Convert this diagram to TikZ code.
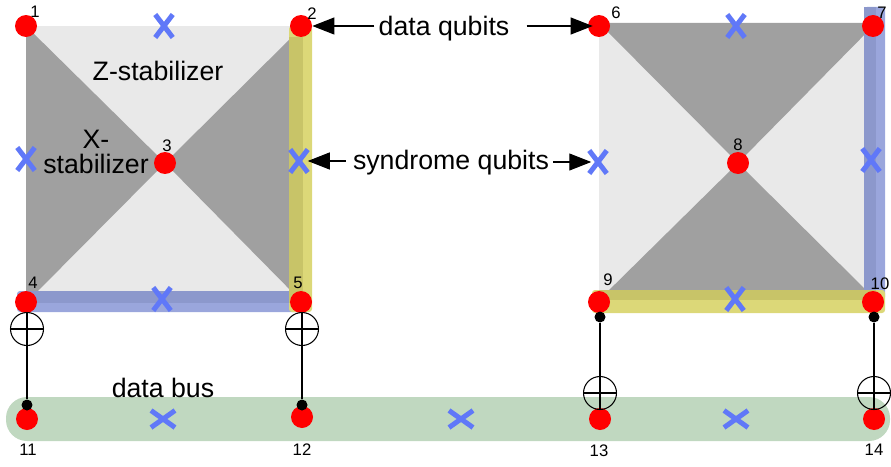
\documentclass[tikz,border=0pt]{standalone}
\usepackage{fontspec}
\setmainfont{Liberation Sans}
\usetikzlibrary{arrows.meta}
\usetikzlibrary{shapes.misc}
\usetikzlibrary{positioning}
\definecolor{facelight}{HTML}{E9E9E9}
\definecolor{facedark}{HTML}{A0A0A0}
\definecolor{yellowlight}{HTML}{DCD878}
\definecolor{yellowdark}{HTML}{C8C468}
\definecolor{bluelight}{HTML}{9AA6DC}
\definecolor{bluedark}{HTML}{8C98CC}
\definecolor{busgreen}{HTML}{C0D8C0}
\definecolor{crossblue}{HTML}{6078F8}
\tikzset{
	qubit/.style={circle, fill=red, inner sep=0pt, minimum size=0.44cm},
	syndrome/.style={cross out, draw=crossblue, line width=0.1cm, inner sep=0pt, minimum width=0.25cm, minimum height=0.36cm},
	busx/.style={syndrome, minimum width=0.38cm, minimum height=0.24cm},
	oplus/.style={circle, draw=black, line width=0.6pt, inner sep=0pt, minimum size=0.66cm,
		path picture={\draw[line width=0.6pt] (path picture bounding box.north) -- (path picture bounding box.south)
			(path picture bounding box.west) -- (path picture bounding box.east);}},
	ctrl/.style={circle, fill=black, inner sep=0pt, minimum size=0.22cm},
	num/.style={font=\fontsize{9.5}{9.5}\selectfont, inner sep=0pt},
	caption/.style={font=\fontsize{15.2}{16}\selectfont, inner sep=0pt, align=center},
	pointer/.style={-{Triangle[length=0.44cm,width=0.34cm]}, line width=0.6pt}
}
\begin{document}
\begin{tikzpicture}[x=0.02cm, y=-0.02cm]
	\useasboundingbox (0,0) rectangle (891,466);

	% stabilizer faces
	\fill[facelight] (26,26) rectangle (303,303);
	\fill[facedark] (26,26) -- (165,163) -- (26,303) -- cycle;
	\fill[facedark] (303,26) -- (165,163) -- (303,303) -- cycle;
	\fill[facelight] (599,23) rectangle (876,300);
	\fill[facedark] (599,23) -- (738,163) -- (876,23) -- cycle;
	\fill[facedark] (599,300) -- (738,163) -- (876,300) -- cycle;

	% bands and bus
	\fill[bluelight, rounded corners=0.06cm] (17,291) rectangle (303,312);
	\fill[bluedark] (26,291) rectangle (303,303);
	\fill[yellowlight, rounded corners=0.06cm] (289,26) rectangle (312,312);
	\fill[yellowdark] (289,37) rectangle (303,303);
	\fill[bluelight, rounded corners=0.06cm] (864,7) rectangle (885,300);
	\fill[bluedark] (864,7) rectangle (876,300);
	\fill[yellowlight, rounded corners=0.06cm] (592,290) rectangle (885,313);
	\fill[yellowdark] (599,290) rectangle (876,300);
	\fill[busgreen, rounded corners=0.42cm] (6,397) rectangle (890,441);

	\begin{scope}[every node/.style={qubit}]
		\node (q1) at (26,26) {};
		\node (q2) at (301,26) {};
		\node (q3) at (165,163) {};
		\node (q4) at (26,302) {};
		\node (q5) at (301,302) {};
		\node (q6) at (599,26) {};
		\node (q7) at (873,26) {};
		\node (q8) at (738,163) {};
		\node (q9) at (599,302) {};
		\node (q10) at (873,302) {};
		\node (q11) at (27,419) {};
		\node (q12) at (302,417) {};
		\node (q13) at (600,419) {};
		\node (q14) at (874,419) {};
	\end{scope}

	\begin{scope}[every node/.style={syndrome}]
		\node (s1) at (164,26) {};
		\node (s2) at (26,159) {};
		\node (s3) at (299,161) {};
		\node (s4) at (162,299) {};
		\node (s5) at (736,26) {};
		\node (s6) at (598,162) {};
		\node (s7) at (871,160) {};
		\node (s8) at (735,299) {};
	\end{scope}
	\begin{scope}[every node/.style={busx}]
		\node (s9) at (163,419) {};
		\node (s10) at (461,419) {};
		\node (s11) at (736,419) {};
	\end{scope}

	% gates between the patches and the bus
	\node[ctrl] (d1) at (27,405) {};
	\node[ctrl] (d2) at (302,405) {};
	\node[ctrl] (d3) at (600,317) {};
	\node[ctrl] (d4) at (874,317) {};
	\node[oplus] (x1) at (27,329) {};
	\node[oplus] (x2) at (302,329) {};
	\node[oplus] (x3) at (600,393) {};
	\node[oplus] (x4) at (874,393) {};
	\begin{scope}[every edge/.style={draw=black, line width=0.6pt}]
		\foreach \i in {1,2,3,4}{\path (x\i) edge (d\i);}
		\path (x3) edge (q13);
		\path (x4) edge (q14);
	\end{scope}

	\begin{scope}[every node/.style={num}]
		\node (n1) at (35,12) {1};
		\node (n2) at (312,14) {2};
		\node (n3) at (167,146) {3};
		\node (n4) at (33,283) {4};
		\node (n5) at (298,283) {5};
		\node (n6) at (616,13) {6};
		\node (n7) at (882,13) {7};
		\node (n8) at (738,145) {8};
		\node (n9) at (608,280) {9};
		\node (n10) at (880,284) {10};
		\node (n11) at (28,450) {11};
		\node (n12) at (302,450) {12};
		\node (n13) at (599,451) {13};
		\node (n14) at (874,450) {14};
	\end{scope}

	\node[caption] (zstab) at (158,71) {Z-stabilizer};
	\node[caption] (xstab) at (96,152) {X-\\[-2pt]stabilizer};
	\node[caption] (bus) at (163,388) {data bus};
	\node[caption] (data) at (444,29) {data qubits};
	\node[caption] (synd) at (451,163) {syndrome qubits};

	\draw[pointer, shorten <=0.08cm] (data.west |- q2) -- (q2);
	\draw[pointer, shorten <=0.34cm, shorten >=-0.1cm] (data.east |- q6) -- (q6);
	\draw[pointer, shorten <=0.14cm] (synd.west |- s3) -- (s3);
	\draw[pointer, shorten <=0.08cm, shorten >=-0.04cm] (synd.east |- s6) -- (s6);
\end{tikzpicture}
\end{document}
